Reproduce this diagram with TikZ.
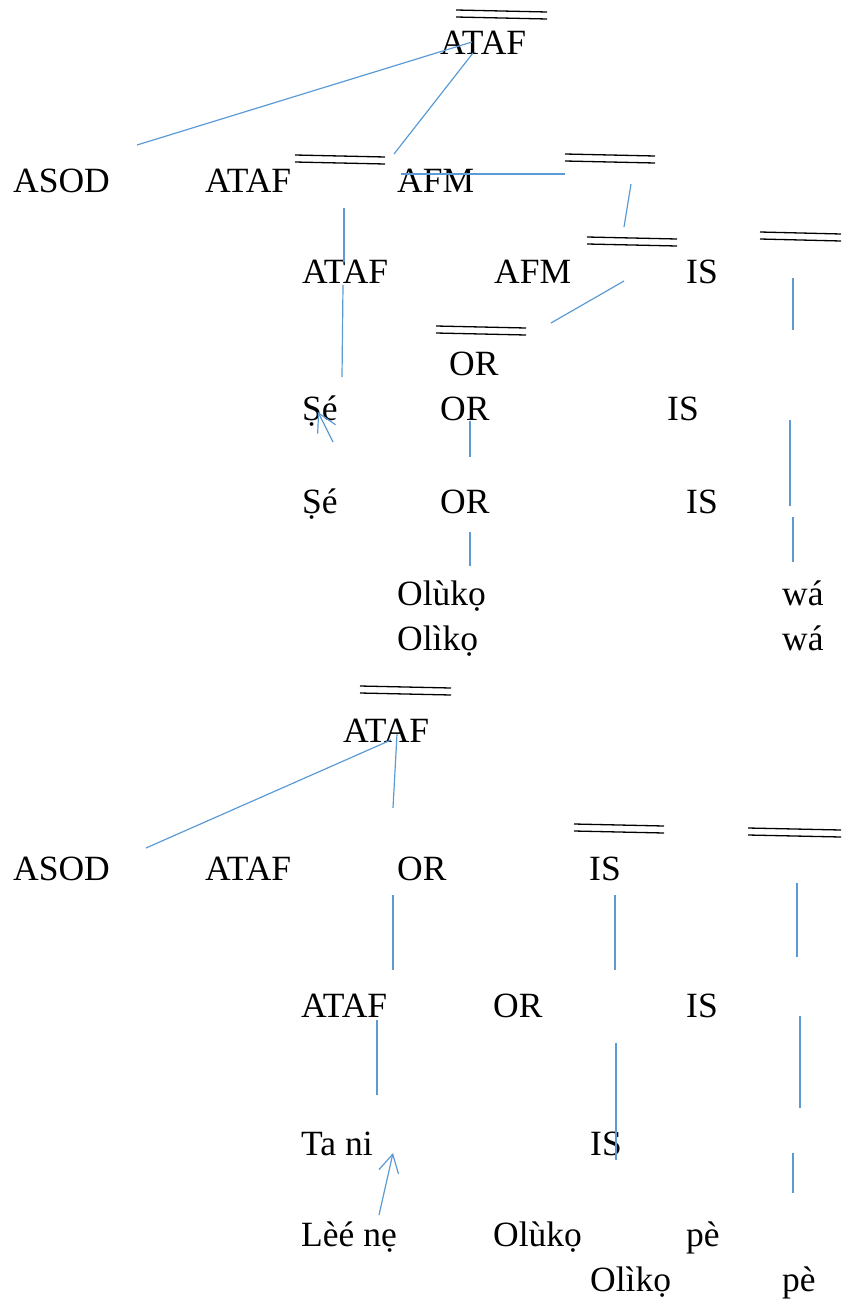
\documentclass[tikz,border=0pt]{standalone}
\usepackage{fontspec}
\setmainfont{Liberation Serif}
\usetikzlibrary{arrows.meta}
\definecolor{wblue}{HTML}{5B9BD5}
\tikzset{
  lbl/.style={anchor=base west, inner sep=0pt, yshift=-3pt, font=\fontsize{35.5}{40}\selectfont},
  conn/.style={draw=wblue, line width=1.2pt},
  arr/.style={conn, -{Straight Barb[length=18pt,width=20pt,line width=1.2pt]}},
  bar/.style={draw=black, line width=1.3pt}
}
\newcommand{\dbl}[4]{%
  \draw[bar] (#1,#2) -- (#3,#4);
  \draw[bar] (#1,#2+7) -- (#3,#4+7);}
\begin{document}
\begin{tikzpicture}[x=1pt,y=-1pt]
\useasboundingbox (0,0) rectangle (841,1303);
% double bars
\dbl{456}{10}{547}{12}
\dbl{295}{155}{385}{157}
\dbl{565}{154}{655}{156}
\dbl{587}{237}{677}{239}
\dbl{760}{232}{841}{234}
\dbl{436}{326}{526}{328}
\dbl{360}{686}{451}{688}
\dbl{574}{824}{664}{826}
\dbl{748}{828}{841}{830}
% labels, upper tree
\node[lbl] (t1) at (440,52) {ATAF};
\node[lbl] (a1) at (13,189) {ASOD};
\node[lbl] (a2) at (205,189) {ATAF};
\node[lbl] (a3) at (397,189) {AFM};
\node[lbl] (b1) at (302,280) {ATAF};
\node[lbl] (b2) at (494,280) {AFM};
\node[lbl] (b3) at (686,280) {IS};
\node[lbl] (c1) at (449,372) {OR};
\node[lbl] (d1) at (302,417) {Ṣé};
\node[lbl] (d2) at (440,417) {OR};
\node[lbl] (d3) at (667,417) {IS};
\node[lbl] (e1) at (302,510) {Ṣé};
\node[lbl] (e2) at (440,510) {OR};
\node[lbl] (e3) at (686,510) {IS};
\node[lbl] (f1) at (397,602) {Olùkọ};
\node[lbl] (f2) at (782,602) {wá};
\node[lbl] (g1) at (397,647) {Olìkọ};
\node[lbl] (g2) at (782,647) {wá};
% labels, lower tree
\node[lbl] (t2) at (343,739) {ATAF};
\node[lbl] (h1) at (13,877) {ASOD};
\node[lbl] (h2) at (205,877) {ATAF};
\node[lbl] (h3) at (397,877) {OR};
\node[lbl] (h4) at (589,877) {IS};
\node[lbl] (i1) at (301,1014) {ATAF};
\node[lbl] (i2) at (493,1014) {OR};
\node[lbl] (i3) at (686,1014) {IS};
\node[lbl] (j1) at (301,1152) {Ta ni};
\node[lbl] (j2) at (590,1152) {IS};
\node[lbl] (k1) at (301,1243) {Lèé nẹ};
\node[lbl] (k2) at (493,1243) {Olùkọ};
\node[lbl] (k3) at (686,1243) {pè};
\node[lbl] (m1) at (590,1288) {Olìkọ};
\node[lbl] (m2) at (782,1288) {pè};
% connectors, upper tree
\draw[conn] (472,42) -- (137,145);
\draw[conn] (473,53) -- (394,154);
\draw[conn] (401,174) -- (565,174);
\draw[conn] (631,184) -- (624,227);
\draw[conn] (344,208) -- (344,262);
\draw[conn] (343,285) -- (342,377);
\draw[conn] (624,281) -- (551,323);
\draw[conn] (793,278) -- (793,330);
\draw[conn] (470,421) -- (470,457);
\draw[arr] (333,442) -- (318,412);
\draw[conn] (790,420) -- (790,506);
\draw[conn] (470,532) -- (470,566);
\draw[conn] (793,517) -- (793,562);
% connectors, lower tree
\draw[conn] (391,740) -- (146,848);
\draw[conn] (397,734) -- (393,808);
\draw[conn] (393,895) -- (393,970);
\draw[conn] (615,895) -- (615,970);
\draw[conn] (797,883) -- (797,957);
\draw[conn] (377,1020) -- (377,1095);
\draw[conn] (616,1043) -- (616,1160);
\draw[conn] (800,1016) -- (800,1108);
\draw[conn] (793,1153) -- (793,1193);
\draw[arr] (379,1215) -- (393,1153);
\end{tikzpicture}
\end{document}
